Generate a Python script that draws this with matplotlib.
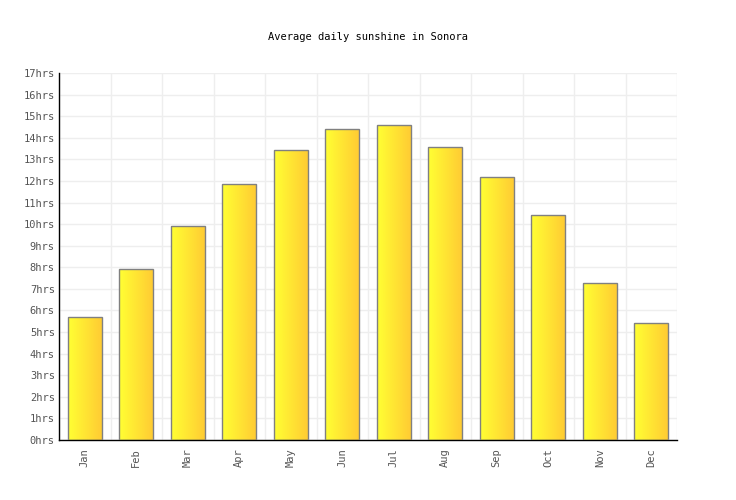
import numpy as np
import matplotlib
matplotlib.use("Agg")
import matplotlib.pyplot as plt
from matplotlib.colors import LinearSegmentedColormap

months = ['Jan', 'Feb', 'Mar', 'Apr', 'May', 'Jun', 'Jul', 'Aug', 'Sep', 'Oct', 'Nov', 'Dec']
sunshine = [5.7, 7.9, 9.9, 11.85, 13.45, 14.4, 14.6, 13.55, 12.2, 10.4, 7.25, 5.4]
yticks = list(range(0, 18))
ylabels = [f'{v}hrs' for v in yticks]

plt.rcParams['font.family'] = ['DejaVu Sans Mono']

fig = plt.figure(figsize=(7.36, 5.0), dpi=100)
ax = fig.add_axes([59 / 736, 60 / 500, 618 / 736, 367 / 500])

x = np.arange(len(months))
bars = ax.bar(x, sunshine, width=0.66, facecolor='none', edgecolor='#808080', linewidth=1, zorder=3)

# gradient fill, yellow on the left to orange on the right
cmap = LinearSegmentedColormap.from_list('sun', ['#ffff33', '#ffcc33'])
grad = np.linspace(0, 1, 64).reshape(1, -1)
for b in bars:
    x0, y0 = b.get_x(), b.get_y()
    w, h = b.get_width(), b.get_height()
    im = ax.imshow(grad, cmap=cmap, aspect='auto', extent=[x0, x0 + w, y0, y0 + h], zorder=2)
    im.set_clip_path(b)

ax.set_xlim(-0.5, len(months) - 0.5)
ax.set_ylim(0, 17)
ax.set_yticks(yticks)
ax.set_yticklabels(ylabels)
ax.set_xticks(x)
ax.set_xticklabels(months, rotation=90)
ax.set_xticks(np.arange(-0.5, len(months)), minor=True)

ax.grid(True, which='minor', axis='x', color='#eeeeee', linewidth=1, zorder=0)
ax.grid(True, which='major', axis='y', color='#eeeeee', linewidth=1, zorder=0)
ax.set_axisbelow(True)

ax.tick_params(axis='both', which='both', length=0, labelsize=7.5, labelcolor='#555555')
ax.tick_params(axis='y', pad=3)
ax.tick_params(axis='x', pad=6)

for side in ['top', 'right']:
    ax.spines[side].set_visible(False)
for side in ['left', 'bottom']:
    ax.spines[side].set_color('black')
    ax.spines[side].set_linewidth(1)

fig.text(0.5, 1 - 37 / 500, 'Average daily sunshine in Sonora', ha='center', va='center', fontsize=7.5, color='black')

fig.savefig('out.png', dpi=100)
